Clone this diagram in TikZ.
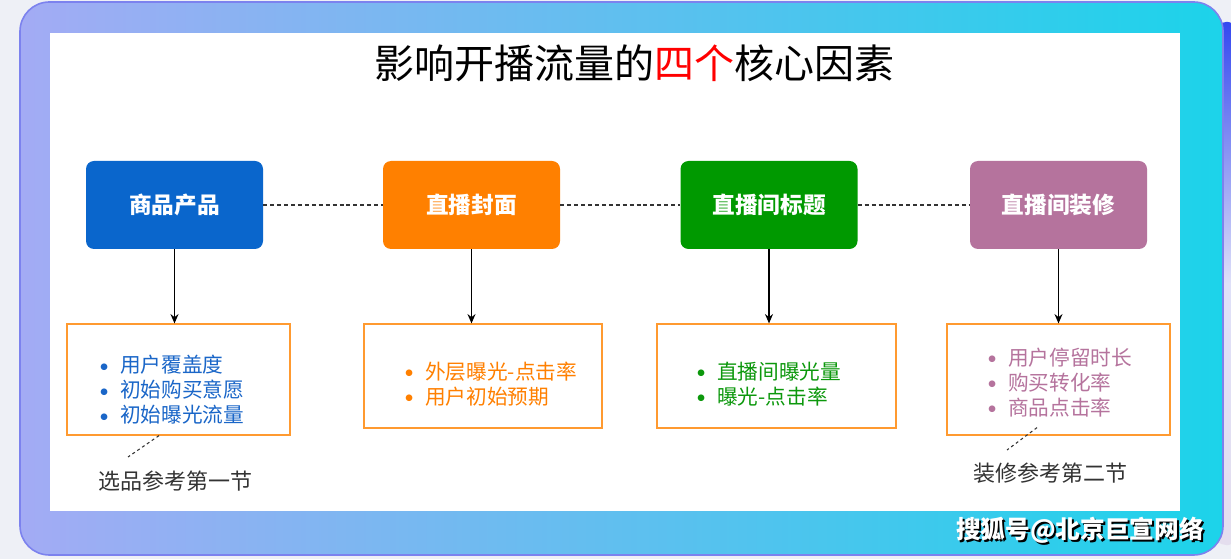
\documentclass[tikz,border=0pt]{standalone}
\usepackage{fontspec}
\setmainfont{Noto Sans CJK SC}
\newfontfamily\dotfont{DejaVu Sans}
\usepackage{tikz}
\usetikzlibrary{arrows.meta,calc,positioning}
\definecolor{pageback}{HTML}{EEF0F6}
\definecolor{frameleft}{HTML}{A3ABF4}
\definecolor{frameright}{HTML}{1CD3EA}
\definecolor{frameline}{HTML}{7C82EE}
\definecolor{stripblue}{HTML}{3448F0}
\definecolor{striplight}{HTML}{E4DEEE}
\definecolor{prodblue}{HTML}{0A66CC}
\definecolor{coverorange}{HTML}{FF8000}
\definecolor{titlegreen}{HTML}{009900}
\definecolor{decopurple}{HTML}{B5739D}
\definecolor{listblue}{HTML}{1A66C8}
\definecolor{listgreen}{HTML}{0C980C}
\definecolor{boxorange}{HTML}{FF9A30}
\definecolor{notegray}{HTML}{333333}
\tikzset{
  headbox/.style={rounded corners=6pt, inner sep=0pt, minimum width=132.75pt,
    minimum height=66pt, text=white, font=\fontsize{17}{20}\selectfont\bfseries},
  listbox/.style={draw=boxorange, line width=0.9pt, inner sep=0pt},
  listtxt/.style={anchor=west, align=left, inner sep=0pt,
    font=\fontsize{15.5}{18.75}\selectfont},
  linkdash/.style={draw=notegray, line width=0.8pt, dash pattern=on 3pt off 2.2pt},
  notedash/.style={draw=notegray, line width=0.8pt, dash pattern=on 2.2pt off 2.2pt},
  downarrow/.style={draw=black, line width=0.8pt, -{Stealth[length=7pt,width=6pt]}},
  notetxt/.style={text=notegray, font=\fontsize{16.5}{20}\selectfont},
}
\newcommand{\bul}[1]{\makebox[15pt][l]{\raisebox{2.6pt}{\dotfont\fontsize{6.5}{0}\selectfont ●}}#1}
\begin{document}
\begin{tikzpicture}[x=0.75pt,y=-0.75pt]
\useasboundingbox (0,0) rectangle (1231,559);
\fill[pageback] (0,0) rectangle (1231,559);
\shade[top color=stripblue, bottom color=striplight, middle color=striplight!70!stripblue!40,
  rounded corners=9pt] (1214,22) rectangle (1240,545);
\shade[left color=frameleft, right color=frameright, rounded corners=22pt]
  (20,2) rectangle (1223,555);
\draw[frameline, line width=1.2pt, rounded corners=22pt] (20,2) rectangle (1223,555);
\fill[white] (50,33) rectangle (1180,511);

\node[font=\fontsize{30}{35}\selectfont] (title) at (634,63)
  {影响开播流量的{\color{red}四个}核心因素};

\node[headbox, fill=prodblue] (h1) at (174.5,205) {商品产品};
\node[headbox, fill=coverorange] (h2) at (471.5,205) {直播封面};
\node[headbox, fill=titlegreen] (h3) at (769,205) {直播间标题};
\node[headbox, fill=decopurple] (h4) at (1058.5,205) {直播间装修};

\draw[linkdash] (h1.east) -- (h2.west);
\draw[linkdash] (h2.east) -- (h3.west);
\draw[linkdash] (h3.east) -- (h4.west);

\node[listbox, minimum width=167.25pt, minimum height=83.25pt] (b1) at (178.5,379.5) {};
\node[listbox, minimum width=178.5pt, minimum height=78pt] (b2) at (483,376) {};
\node[listbox, minimum width=179.25pt, minimum height=78pt] (b3) at (776.5,376) {};
\node[listbox, minimum width=167.25pt, minimum height=83.25pt] (b4) at (1058.5,379.5) {};

\draw[downarrow] (h1.south) -- (h1.south |- b1.north);
\draw[downarrow] (h2.south) -- (h2.south |- b2.north);
\draw[downarrow] (h3.south) -- (h3.south |- b3.north);
\draw[downarrow] (h4.south) -- (h4.south |- b4.north);

\node[listtxt, text=listblue] (t1) at (100,390)
  {\bul{用户覆盖度}\\\bul{初始购买意愿}\\\bul{初始曝光流量}};
\node[listtxt, text=coverorange] (t2) at (405,384)
  {\bul{外层曝光-点击率}\\\bul{用户初始预期}};
\node[listtxt, text=listgreen] (t3) at (697,384)
  {\bul{直播间曝光量}\\\bul{曝光-点击率}};
\node[listtxt, text=decopurple] (t4) at (988,382.5)
  {\bul{用户停留时长}\\\bul{购买转化率}\\\bul{商品点击率}};

\node[notetxt] (n1) at (175,481) {选品参考第一节};
\node[notetxt] (n4) at (1050,473) {装修参考第二节};
\coordinate (d1) at (128,457);
\coordinate (d4) at (1007,450);
\draw[notedash] ($(b1.south)+(-19.5,0)$) -- (d1);
\draw[notedash] ($(b4.south)+(-21.5,-8)$) -- (d4);

\node[font=\fontsize{18.5}{22}\selectfont\bfseries, text=black] at (1082,532) {搜狐号@北京巨宣网络};
\node[font=\fontsize{18.5}{22}\selectfont\bfseries, text=white] (mark) at (1080,530) {搜狐号@北京巨宣网络};
\end{tikzpicture}
\end{document}
